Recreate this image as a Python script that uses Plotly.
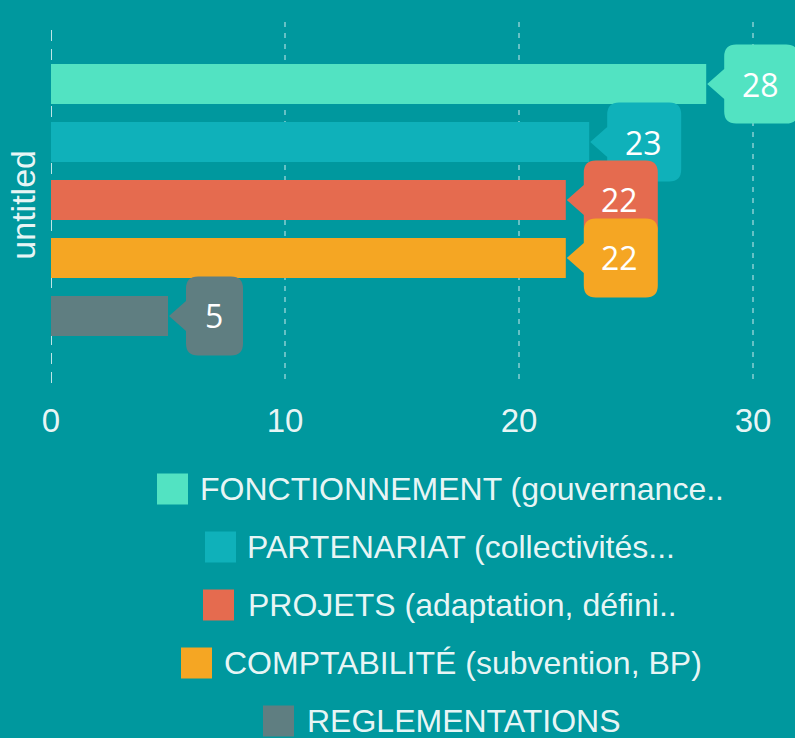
import plotly.graph_objects as go

# ---- data ----
CATEGORY = "untitled"
SERIES = [
    "FONCTIONNEMENT (gouvernance..",
    "PARTENARIAT (collectivités...",
    "PROJETS (adaptation, défini..",
    "COMPTABILITÉ (subvention, BP)",
    "REGLEMENTATIONS",
]
VALUES = [28, 23, 22, 22, 5]
COLORS = ["#52e3c2", "#0fb1ba", "#e56b4f", "#f5a623", "#5f7e81"]
X_TICKS = [0, 10, 20, 30]

# ---- layout constants ----
BG = "#00989e"
W, H = 795, 738
ML, MR, MT, MB = 51, 0, 22, 355
BARGAP = 0.197
BARGROUPGAP = 0.31
PX_PER_UNIT = 23.4
X_MAX = (W - ML - MR) / PX_PER_UNIT
TEXT = "rgba(255,255,255,0.93)"
FONT = "Liberation Sans, Arial, sans-serif"

fig = go.Figure()
for name, v, c in zip(SERIES, VALUES, COLORS):
    fig.add_trace(go.Bar(
        x=[v], y=[0], name=name, orientation="h",
        marker=dict(color=c, line=dict(width=0)),
        showlegend=False, hoverinfo="x+name",
    ))

n = len(SERIES)
band = 1 - BARGAP
slot = band / n


def bar_center(i):
    return -band / 2 + slot * (i + 0.5)


def bubble(width, r=12, bx0=18, hh=39.5, ah=15):
    bx1 = bx0 + width
    return (
        f"M1,0 L{bx0},{ah} L{bx0},{hh - r} Q{bx0},{hh} {bx0 + r},{hh} "
        f"L{bx1 - r},{hh} Q{bx1},{hh} {bx1},{hh - r} "
        f"L{bx1},{-hh + r} Q{bx1},{-hh} {bx1 - r},{-hh} "
        f"L{bx0 + r},{-hh} Q{bx0},{-hh} {bx0},{-hh + r} L{bx0},{-ah} Z"
    )


# dashed zero line
fig.add_shape(type="line", xref="x", yref="paper", x0=0, x1=0, y0=0, y1=1,
              line=dict(color="rgba(255,255,255,0.75)", width=2, dash="11px,8px"),
              layer="below")

for i, (v, c) in enumerate(zip(VALUES, COLORS)):
    yc = bar_center(i)
    label = str(v)
    bw = 40 + 17 * len(label)
    fig.add_shape(type="path", xref="x", yref="y",
                  xsizemode="pixel", ysizemode="pixel",
                  xanchor=v, yanchor=yc, path=bubble(bw),
                  fillcolor=c, line=dict(width=0), layer="above")
    fig.add_annotation(x=v, y=yc, xref="x", yref="y", text=label,
                       showarrow=False, xshift=18 + bw / 2 - 1,
                       xanchor="center", yanchor="middle",
                       font=dict(family="Open Sans", size=32, color="white"))

# ---- custom legend (large square swatches) ----
PW = W - ML - MR
PH = H - MT - MB


def px_x(p):
    return (p - ML) / PW


def px_y(p):
    return (H - MB - p) / PH


LEG_Y0, LEG_STEP, SQ = 489, 58, 31
SQ_X = [157, 205, 203, 181, 263]
TXT_X = [198, 245, 246, 222, 305]
for i, (name, c) in enumerate(zip(SERIES, COLORS)):
    yc = LEG_Y0 + i * LEG_STEP
    fig.add_shape(type="rect", xref="paper", yref="paper",
                  x0=px_x(SQ_X[i]), x1=px_x(SQ_X[i] + SQ),
                  y0=px_y(yc + SQ / 2), y1=px_y(yc - SQ / 2),
                  fillcolor=c, line=dict(width=0), layer="above")
    fig.add_annotation(x=px_x(TXT_X[i]), y=px_y(yc), xref="paper", yref="paper",
                       text=name, showarrow=False, xanchor="left", yanchor="middle",
                       font=dict(family=FONT, size=32, color=TEXT))

fig.update_layout(
    width=W, height=H,
    margin=dict(l=ML, r=MR, t=MT, b=MB, pad=0),
    paper_bgcolor=BG, plot_bgcolor=BG,
    barmode="group", bargap=BARGAP, bargroupgap=BARGROUPGAP,
    showlegend=False,
    font=dict(family=FONT, color=TEXT),
    xaxis=dict(
        range=[0, X_MAX], tickvals=X_TICKS, showgrid=True,
        gridcolor="rgba(255,255,255,0.4)", gridwidth=2, griddash="5px,6px",
        zeroline=False, showline=False,
        ticks="outside", ticklen=8, tickcolor="rgba(0,0,0,0)",
        tickfont=dict(family=FONT, size=33, color=TEXT),
    ),
    yaxis=dict(
        range=[0.507, -0.493], tickvals=[0], ticktext=[CATEGORY],
        tickangle=-90, showgrid=False, zeroline=False, showline=False,
        ticks="outside", ticklen=1, tickcolor="rgba(0,0,0,0)",
        ticklabelshift=-10,
        tickfont=dict(family=FONT, size=34, color=TEXT),
    ),
)

fig.write_html(
    "out.html",
    config={"displayModeBar": False},
    post_script="document.body.style.margin='0';document.body.style.overflow='hidden';",
)
